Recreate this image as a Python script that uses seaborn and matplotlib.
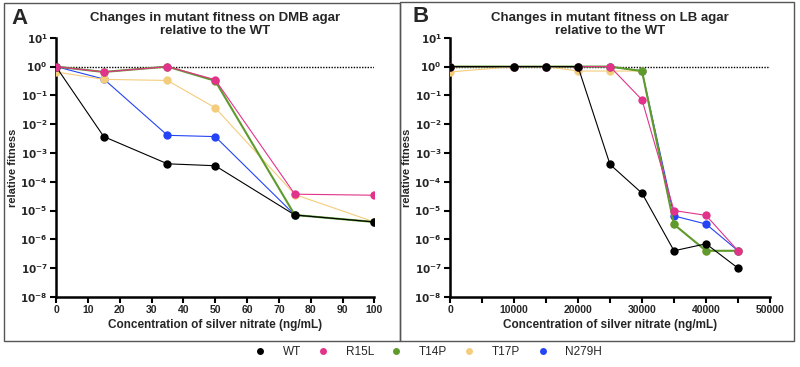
import numpy as np
import pandas as pd
import matplotlib
matplotlib.use('Agg')
import matplotlib.pyplot as plt
import seaborn as sns
from matplotlib.lines import Line2D
from matplotlib.patches import Rectangle
from matplotlib.ticker import FixedLocator, MultipleLocator, FuncFormatter

# ========================================
# Data
# ========================================
strains = ['WT', 'R15L', 'T14P', 'T17P', 'N279H']
colors = {'WT': '#000000', 'R15L': '#e2338b', 'T14P': '#5e9a2c',
          'T17P': '#f4cd7c', 'N279H': '#2444f5'}

# Panel A: DMB agar
dmb_conc = [0, 15, 35, 50, 75, 100]
dmb_wt = [1.0, 3.7e-3, 4.2e-4, 3.6e-4, 7e-6, 4e-6]
dmb_r15l = [1.0, 0.65, 1.0, 0.35, 3.7e-5, 3.4e-5]
dmb_t14p = [1.0, 0.65, 1.0, 0.32, 7e-6, 4e-6]
dmb_t17p = [0.65, 0.36, 0.33, 0.037, 3.6e-5, 4e-6]
dmb_n279h = [1.0, 0.37, 4.1e-3, 3.7e-3, 7e-6, 4e-6]

# Panel B: LB agar
lb_conc = [0, 10000, 15000, 20000, 25000, 30000, 35000, 40000, 45000]
lb_wt = [1.0, 1.0, 1.0, 1.0, 4e-4, 4e-5, 4e-7, 7e-7, 1e-7]
lb_r15l = [1.0, 1.0, 1.0, 1.0, 1.0, 0.07, 1e-5, 6.8e-6, 4e-7]
lb_t14p = [1.0, 1.0, 1.0, 1.0, 1.0, 0.7, 3.3e-6, 4e-7, 4e-7]
lb_t17p = [0.65, 1.0, 1.0, 0.7, 0.7, 0.7, 3.3e-6, 4e-7, 4e-7]
lb_n279h = [1.0, 1.0, 1.0, 1.0, 1.0, 0.7, 6.5e-6, 3.4e-6, 4e-7]

dmb = pd.DataFrame({'conc': dmb_conc, 'WT': dmb_wt, 'R15L': dmb_r15l,
                    'T14P': dmb_t14p, 'T17P': dmb_t17p, 'N279H': dmb_n279h})
lb = pd.DataFrame({'conc': lb_conc, 'WT': lb_wt, 'R15L': lb_r15l,
                   'T14P': lb_t14p, 'T17P': lb_t17p, 'N279H': lb_n279h})

sns.set_style('ticks')
plt.rcParams['font.family'] = ['Liberation Sans', 'DejaVu Sans']

fig = plt.figure(figsize=(8, 3.67), dpi=100)
axA = fig.add_axes([0.070, 0.191, 0.398, 0.706])
axB = fig.add_axes([0.5625, 0.191, 0.400, 0.706])


def log_fmt(v, pos):
    e = int(round(np.log10(v)))
    return r'$\mathbf{10^{%d}}$' % e


def draw_panel(ax, df, order, title, xmax, major, minor):
    ax.axhline(1.0, color='black', ls=(0, (1, 1)), lw=1.0, zorder=1)
    for s in order:
        lw = 1.5 if s == 'T14P' else 0.8
        sns.lineplot(data=df, x='conc', y=s, ax=ax, color=colors[s], lw=lw,
                     marker='o', markersize=6, markeredgewidth=0, zorder=3)
    ax.set_yscale('log')
    ax.set_ylim(1e-8, 10)
    ax.set_xlim(0, xmax)
    ax.yaxis.set_major_locator(FixedLocator([10.0 ** e for e in range(-8, 2)]))
    ax.yaxis.set_minor_locator(FixedLocator([]))
    ax.yaxis.set_major_formatter(FuncFormatter(log_fmt))
    ax.xaxis.set_major_locator(MultipleLocator(major))
    if minor:
        ax.xaxis.set_minor_locator(MultipleLocator(minor))
    for s in ['top', 'right']:
        ax.spines[s].set_visible(False)
    for s in ['left', 'bottom']:
        ax.spines[s].set_linewidth(1.8)
        ax.spines[s].set_color('black')
    ax.tick_params(axis='both', which='both', direction='out', length=4,
                   width=1.5, color='black', labelsize=7.5, pad=2)
    for lab in ax.get_xticklabels():
        lab.set_fontweight('bold')
    ax.set_xlabel('Concentration of silver nitrate (ng/mL)', fontsize=8.5,
                  fontweight='bold', labelpad=3)
    ax.set_ylabel('relative fitness', fontsize=8, fontweight='bold', labelpad=2)
    ax.set_title(title, fontsize=9.5, fontweight='bold', pad=3, linespacing=1.1)
    ax.set_facecolor('none')


draw_panel(axA, dmb, ['N279H', 'T17P', 'T14P', 'WT', 'R15L'],
           'Changes in mutant fitness on DMB agar\nrelative to the WT', 100, 10, None)
draw_panel(axB, lb, ['N279H', 'T17P', 'T14P', 'R15L', 'WT'],
           'Changes in mutant fitness on LB agar\nrelative to the WT', 50000, 10000, 5000)

# panel frames and letters
fig.patches.append(Rectangle((4 / 800, 1 - 341 / 367), 396 / 800, 338 / 367,
                             transform=fig.transFigure, fill=False,
                             edgecolor='#555555', lw=1.0))
fig.patches.append(Rectangle((400 / 800, 1 - 341 / 367), 394 / 800, 339 / 367,
                             transform=fig.transFigure, fill=False,
                             edgecolor='#555555', lw=1.0))
fig.text(11 / 800, 1 - 18 / 367, 'A', fontsize=16, fontweight='bold', va='center')
fig.text(413 / 800, 1 - 17 / 367, 'B', fontsize=16, fontweight='bold', va='center')

handles = [Line2D([], [], ls='none', marker='o', markersize=5,
                  markeredgewidth=0, color=colors[s]) for s in strains]
fig.legend(handles, strains, loc='center', bbox_to_anchor=(425 / 800, 1 - 352 / 367),
           ncol=5, frameon=False, fontsize=8.5, handletextpad=0.9,
           columnspacing=0.9)

fig.savefig('out.png', dpi=100)
